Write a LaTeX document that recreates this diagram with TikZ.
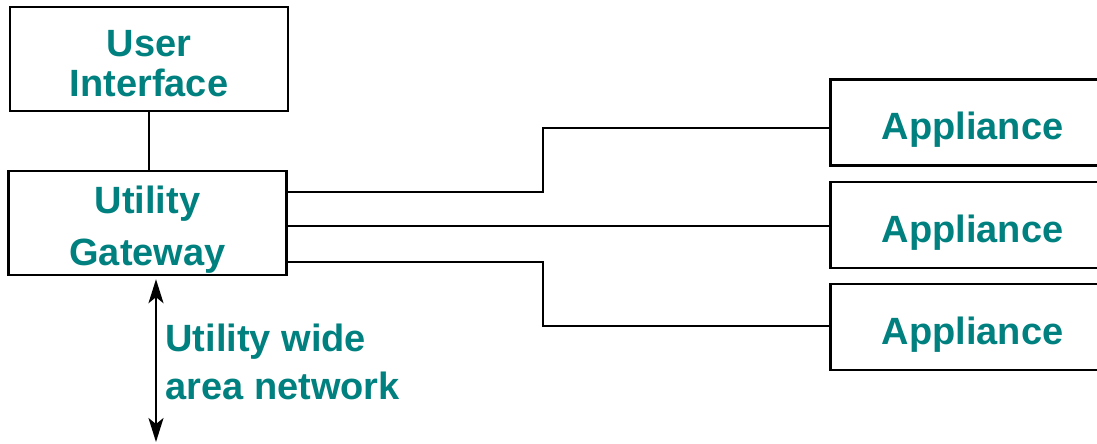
\documentclass[tikz,border=0pt]{standalone}
\usepackage{fontspec}
\setmainfont{Liberation Sans}
\usepackage{tikz}
\usetikzlibrary{arrows.meta,positioning}
\definecolor{labteal}{HTML}{00807F}
\tikzset{
  blk/.style={draw=black,line width=1.2pt,inner sep=0pt,align=center,
    text=labteal,font=\bfseries\fontsize{19}{24}\selectfont},
  uibox/.style={blk,minimum width=139pt,minimum height=52pt},
  appbox/.style={blk,minimum width=142pt,minimum height=43pt,text height=17.5pt,text depth=0pt},
  wire/.style={line width=1pt},
  wan/.style={{Stealth[length=12pt,width=7.5pt,inset=3pt]}-{Stealth[length=12pt,width=7.5pt,inset=3pt]},line width=1pt},
  lbl/.style={inner sep=0pt,align=left,text=labteal,font=\bfseries\fontsize{19}{24}\selectfont},
}

\begin{document}
\begin{tikzpicture}[x=0.5pt,y=-0.5pt]
        \useasboundingbox (0,0) rectangle (1097,444);
        \clip (0,0) rectangle (1097,444);
        \node[uibox,font=\bfseries\fontsize{19}{20}\selectfont] (ui) at (149,59) {\rule{0pt}{17.4pt}User\\Interface};
        \node[uibox,font=\bfseries\fontsize{19}{26}\selectfont,text depth=0pt] (gw) at (147.5,223) {\rule{0pt}{16.5pt}Utility\\Gateway};
        \foreach \i/\y in {1/122.5,2/225,3/327} \node[appbox] (app\i) at (972.5,\y) {Appliance};
        \draw[wire] (ui) -- (ui |- gw.north);
        \draw[wire] (gw.east |- 0,192) -- (543,192) |- (app1.west |- 0,128);
        \draw[wire] (gw.east |- 0,226) -- (app2.west |- 0,226);
        \draw[wire] (gw.east |- 0,262) -- (543,262) |- (app3.west |- 0,326);
        \coordinate (wanend) at (156,442);
        \draw[wan] (gw.south -| wanend) ++(0,3) -- (wanend);
        \node[lbl, anchor=west] (wanlbl) at (165,362) {Utility wide\\area network};
      \end{tikzpicture}
\end{document}
